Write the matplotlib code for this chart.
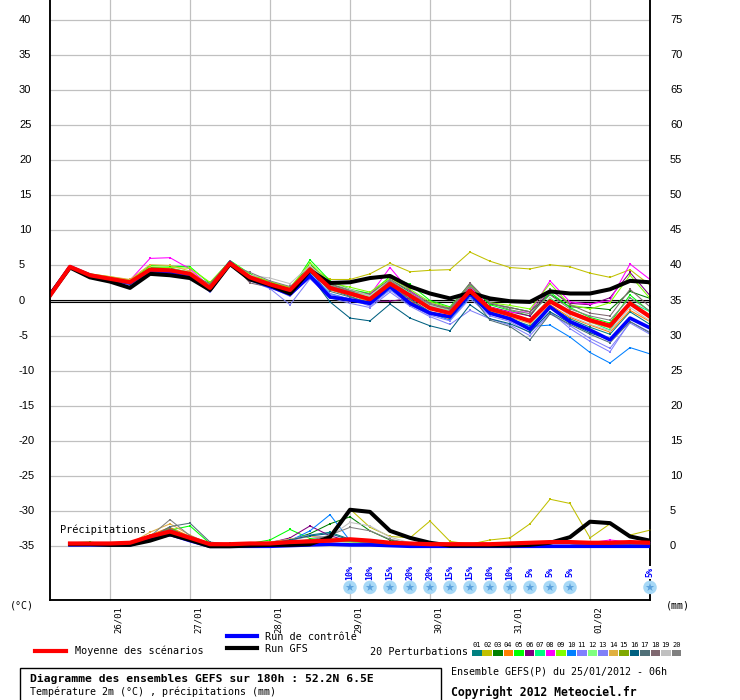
import matplotlib
matplotlib.use('Agg')
import matplotlib.pyplot as plt
from matplotlib.lines import Line2D
from matplotlib.patches import Rectangle
import matplotlib.transforms as mtransforms

# ---------------- data ----------------
hours_t = [0, 6, 12, 18, 24, 30, 36, 42, 48, 54, 60, 66, 72, 78, 84, 90,
           96, 102, 108, 114, 120, 126, 132, 138, 144, 150, 156, 162, 168, 174, 180]
hours_p = hours_t[1:]

day_hours = [18, 42, 66, 90, 114, 138, 162]
day_labels = ["26/01", "27/01", "28/01", "29/01", "30/01", "31/01", "01/02"]

temp_ticks = [-35, -30, -25, -20, -15, -10, -5, 0, 5, 10, 15, 20, 25, 30, 35, 40]
precip_ticks = [0, 5, 10, 15, 20, 25, 30, 35, 40, 45, 50, 55, 60, 65, 70, 75]

mean_t = [0.7, 4.8, 3.6, 3.1, 2.6, 4.4, 4.3, 3.8, 1.8, 5.3, 3.3, 2.3, 1.5, 4.4, 1.8, 1.0,
          0.2, 2.4, 0.7, -1.1, -1.8, 1.4, -1.2, -2.0, -2.9, -0.1, -1.7, -2.8, -3.6, -0.4, -2.3]
gfs_t = [0.8, 4.7, 3.3, 2.7, 1.8, 3.8, 3.6, 3.2, 1.5, 5.2, 3.0, 2.2, 1.0, 4.3, 2.5, 2.6,
         3.2, 3.5, 2.0, 1.0, 0.3, 1.1, 0.3, -0.1, -0.2, 1.3, 1.0, 1.0, 1.6, 2.8, 2.6]
ctrl_t = [0.8, 4.8, 3.6, 3.0, 2.5, 4.3, 4.1, 3.6, 1.5, 5.4, 3.1, 2.0, 0.9, 3.5, 0.5, 0.1,
          -0.4, 2.0, -0.4, -1.8, -2.3, 1.0, -1.8, -2.6, -4.1, -0.9, -3.0, -4.2, -5.6, -2.5, -3.9]

members_t = [
    [0.8, 4.9, 3.7, 3.2, 2.8, 4.6, 4.4, 3.9, 1.7, 5.4, 3.2, 2.2, 1.2, 4.0, 1.6, 0.6, -0.5, 2.0, 0.2, -1.6, -2.4, 0.8, -1.6, -2.6, -3.6, -0.8, -2.6, -3.8, -4.8, -1.6, -3.4],
    [0.7, 4.7, 3.4, 3.0, 2.3, 4.0, 4.2, 3.7, 1.9, 5.2, 3.5, 2.6, 1.9, 4.8, 3.0, 3.0, 3.8, 5.3, 4.1, 4.3, 4.4, 6.9, 5.6, 4.7, 4.5, 5.1, 4.8, 3.9, 3.3, 4.4, 2.2],
    [0.8, 4.8, 3.7, 3.3, 2.9, 4.7, 4.6, 4.0, 2.2, 5.6, 3.6, 2.6, 1.7, 5.2, 2.4, 1.5, 0.9, 3.0, 1.2, -0.6, -1.2, 2.0, -0.5, -1.0, -1.6, 0.9, -0.9, -1.0, -1.3, 1.3, 0.3],
    [0.7, 4.9, 3.5, 2.9, 2.4, 4.3, 4.1, 3.5, 1.5, 5.1, 3.0, 2.1, 1.3, 4.2, 1.5, 0.8, -0.2, 2.2, 0.0, -1.9, -2.6, 1.0, -1.9, -2.8, -4.1, -0.6, -2.4, -3.5, -4.5, -1.4, -3.0],
    [0.9, 4.8, 3.6, 3.2, 2.7, 5.0, 4.9, 4.8, 2.4, 5.7, 3.8, 2.5, 1.4, 5.8, 2.8, 1.6, 1.0, 3.4, 2.3, 0.0, -0.9, 2.4, -0.6, -1.4, -2.2, 1.2, -1.0, -2.4, -3.2, 0.8, -1.6],
    [0.7, 4.7, 3.5, 3.0, 2.5, 4.2, 4.1, 3.6, 1.9, 5.0, 3.0, 2.0, 1.2, 4.4, 0.6, -0.1, -0.1, -0.1, 0.3, -0.9, -1.5, 1.8, -0.9, -1.6, -2.2, 1.5, -0.4, -0.6, 0.4, 4.0, 0.7],
    [0.8, 4.8, 3.6, 3.0, 2.6, 4.5, 4.4, 3.9, 1.7, 5.3, 3.3, 2.3, 1.6, 4.6, 1.9, 1.2, 0.4, 2.9, 1.1, -0.8, -1.9, 1.6, -1.0, -2.0, -3.1, 0.4, -1.8, -3.0, -4.2, -0.2, -1.6],
    [0.7, 4.8, 3.6, 3.2, 2.9, 6.0, 6.1, 4.5, 2.0, 5.5, 3.2, 2.4, 1.6, 4.6, 1.6, 1.2, 0.8, 4.7, 1.3, -0.7, -1.6, 2.0, -1.0, -1.7, -1.6, 2.8, -0.2, -0.5, 0.0, 5.2, 3.0],
    [0.8, 4.7, 3.8, 3.4, 2.9, 4.8, 4.7, 4.6, 2.6, 5.6, 3.7, 2.7, 1.8, 5.4, 2.5, 1.9, 1.2, 3.2, 1.6, -0.2, -1.0, 2.1, -0.3, -0.7, -1.2, 2.4, -0.6, -1.2, -0.3, 3.6, 0.3],
    [0.7, 4.8, 3.5, 3.0, 2.5, 4.1, 4.0, 3.5, 1.6, 5.2, 3.1, 2.0, 1.0, 3.8, 1.0, 0.2, -0.6, 1.6, -0.2, -1.8, -2.8, 0.5, -1.8, -2.6, -3.7, -3.5, -5.2, -7.4, -8.9, -6.7, -7.6],
    [0.7, 4.8, 3.4, 2.9, 2.3, 4.0, 3.9, 3.4, 1.4, 5.1, 2.9, 1.9, 0.6, 3.4, 0.9, 0.2, -0.8, 1.5, -0.6, -2.1, -2.9, 0.3, -2.2, -3.0, -4.6, -1.6, -4.0, -5.8, -7.3, -3.0, -4.5],
    [0.8, 4.8, 3.7, 3.1, 2.6, 4.6, 4.5, 4.1, 2.1, 5.5, 3.5, 2.4, 1.5, 5.0, 2.2, 1.4, 0.6, 2.8, 1.0, -0.7, -1.5, 1.4, -1.0, -1.9, -2.7, 0.3, -1.5, -2.6, -3.6, -0.6, -2.2],
    [0.7, 4.9, 3.4, 2.8, 2.2, 3.8, 3.8, 3.3, 1.2, 5.0, 2.8, 1.7, -0.6, 3.1, 0.4, -0.4, -1.0, 1.2, -0.8, -2.3, -3.4, -1.4, -2.6, -3.5, -5.0, -1.8, -3.6, -5.4, -6.8, -3.2, -4.8],
    [0.8, 4.9, 3.8, 3.4, 3.0, 5.1, 5.0, 4.2, 2.0, 5.6, 3.6, 2.5, 1.6, 4.9, 2.0, 1.1, -0.4, 2.1, -0.3, -1.6, -2.3, 1.1, -1.5, -2.4, -3.3, -0.3, -1.9, -3.1, -3.9, -0.2, -2.6],
    [0.8, 4.8, 3.6, 3.1, 2.7, 4.4, 4.4, 3.9, 1.8, 5.2, 3.4, 2.4, 1.5, 4.5, 1.9, 1.0, 0.3, 2.7, 0.8, -1.0, -1.8, 1.2, -1.2, -2.0, -2.8, 0.1, -1.6, -2.7, -3.4, -0.4, -2.2],
    [0.7, 4.7, 3.5, 2.9, 2.4, 4.1, 4.0, 3.5, 1.5, 5.1, 3.0, 2.0, 0.9, 3.6, -0.2, -2.5, -2.9, -0.5, -2.5, -3.6, -4.3, -0.6, -2.6, -3.3, -4.5, -1.6, -3.2, -4.6, -5.6, -2.6, -4.0],
    [0.8, 4.9, 3.6, 3.0, 2.4, 4.2, 4.2, 3.7, 1.6, 5.3, 3.2, 2.2, 1.3, 4.3, 1.3, 0.5, -0.3, 2.4, 0.2, -1.7, -2.5, 0.9, -2.8, -3.7, -5.6, -1.9, -3.4, -4.8, -6.0, -3.0, -4.6],
    [0.7, 4.9, 3.6, 3.1, 2.6, 4.3, 4.2, 3.7, 2.4, 5.6, 2.5, 1.9, 1.3, 4.7, 2.3, 1.4, 0.9, 3.0, 1.4, -0.4, -1.1, 2.5, -0.4, -1.0, -1.6, 1.6, -0.6, -1.8, -2.2, 1.6, -0.9],
    [0.8, 4.8, 3.5, 3.1, 2.6, 4.5, 4.4, 3.9, 1.9, 5.4, 3.6, 3.2, 2.4, 5.0, 2.5, 1.6, 0.7, 2.9, 1.0, -0.6, -1.6, 1.3, -1.0, -1.8, -2.8, -0.1, -2.2, -3.4, -4.3, -1.0, -2.9],
    [0.7, 4.8, 3.6, 3.2, 2.7, 4.4, 4.3, 3.9, 1.7, 5.1, 4.0, 2.8, 2.0, 4.1, 2.1, 1.3, 0.2, 2.9, 0.9, -0.5, -1.3, 2.2, -0.3, -1.3, -1.9, 0.8, -1.2, -2.2, -2.8, 0.4, -1.5],
]

mean_p = [0.4, 0.4, 0.4, 0.5, 1.4, 2.1, 1.2, 0.3, 0.3, 0.4, 0.4, 0.6, 0.7, 0.8, 1.0,
          0.8, 0.5, 0.4, 0.3, 0.3, 0.3, 0.3, 0.4, 0.5, 0.6, 0.6, 0.5, 0.5, 0.6, 0.5]
gfs_p = [0.3, 0.3, 0.2, 0.2, 0.8, 1.7, 0.9, 0.0, 0.0, 0.1, 0.2, 0.2, 0.3, 1.3, 5.2,
         4.9, 2.2, 1.2, 0.5, 0.1, 0.1, 0.1, 0.1, 0.2, 0.5, 1.3, 3.5, 3.3, 1.4, 0.8]
ctrl_p = [0.2, 0.2, 0.2, 0.2, 1.0, 1.7, 0.8, 0.0, 0.0, 0.0, 0.0, 0.1, 0.2, 0.3, 0.2,
          0.2, 0.1, 0.0, 0.0, 0.0, 0.0, 0.0, 0.0, 0.0, 0.0, 0.0, 0.0, 0.0, 0.0, 0.0]

members_p = [
    [0.3, 0.3, 0.2, 0.3, 1.2, 2.2, 1.3, 0.2, 0.2, 0.3, 0.4, 0.8, 1.6, 2.0, 1.0, 0.6, 0.3, 0.2, 0.1, 0.1, 0.2, 0.2, 0.3, 0.4, 0.5, 0.4, 0.3, 0.3, 0.4, 0.3],
    [0.4, 0.3, 0.3, 0.4, 1.6, 2.4, 1.1, 0.2, 0.2, 0.3, 0.3, 0.4, 0.6, 1.5, 5.3, 2.7, 1.4, 1.2, 3.6, 0.7, 0.3, 0.9, 1.2, 3.2, 6.7, 6.1, 1.2, 3.2, 1.6, 2.3],
    [0.3, 0.4, 0.3, 0.3, 1.3, 2.0, 1.0, 0.3, 0.4, 0.3, 0.4, 0.9, 1.8, 3.2, 4.2, 2.2, 0.9, 0.4, 0.2, 0.2, 0.2, 0.3, 0.3, 0.4, 0.5, 0.4, 0.4, 0.3, 0.4, 0.3],
    [0.3, 0.4, 0.3, 0.3, 1.6, 2.7, 1.4, 0.3, 0.3, 0.4, 0.5, 0.7, 0.9, 0.8, 0.6, 0.5, 0.3, 0.3, 0.2, 0.2, 0.2, 0.3, 0.4, 0.4, 0.5, 0.4, 0.4, 0.3, 0.3, 0.3],
    [0.5, 0.6, 0.3, 0.3, 1.4, 2.3, 2.9, 0.4, 0.3, 0.4, 0.9, 2.4, 1.1, 0.9, 0.7, 0.5, 0.3, 0.2, 0.2, 0.2, 0.3, 0.3, 0.3, 0.4, 0.5, 0.4, 0.4, 0.3, 0.4, 0.3],
    [0.4, 0.4, 0.3, 0.3, 1.2, 2.1, 1.1, 0.3, 0.3, 0.4, 0.5, 1.2, 2.9, 1.5, 0.7, 0.4, 0.3, 0.2, 0.2, 0.2, 0.2, 0.3, 0.3, 0.4, 0.5, 0.5, 0.4, 0.4, 0.4, 0.4],
    [0.3, 0.3, 0.3, 0.3, 1.0, 1.8, 1.0, 0.3, 0.3, 0.3, 0.4, 0.6, 0.8, 0.7, 0.8, 0.6, 0.4, 0.3, 0.3, 0.2, 0.2, 0.3, 0.3, 0.4, 0.5, 0.4, 0.4, 0.4, 0.4, 0.3],
    [0.3, 0.3, 0.3, 0.4, 1.3, 1.9, 1.0, 0.2, 0.2, 0.3, 0.4, 0.5, 0.7, 0.9, 1.0, 0.8, 0.4, 0.3, 0.2, 0.2, 0.2, 0.2, 0.3, 0.3, 0.4, 0.4, 0.5, 0.9, 0.6, 0.4],
    [0.4, 0.4, 0.3, 0.3, 1.2, 2.0, 1.2, 0.3, 0.3, 0.4, 0.5, 0.7, 0.9, 1.0, 0.9, 0.6, 0.3, 0.3, 0.2, 0.2, 0.2, 0.3, 0.3, 0.4, 0.5, 0.5, 0.4, 0.3, 0.4, 0.3],
    [0.3, 0.3, 0.2, 0.3, 1.1, 1.8, 1.0, 0.3, 0.2, 0.3, 0.4, 0.8, 2.2, 4.5, 0.8, 0.6, 0.3, 0.2, 0.2, 0.2, 0.2, 0.2, 0.3, 0.3, 0.4, 0.4, 0.3, 0.3, 0.3, 0.3],
    [0.3, 0.3, 0.3, 0.3, 1.0, 1.6, 1.1, 0.3, 0.3, 0.4, 0.5, 0.9, 1.4, 1.0, 0.7, 0.5, 0.3, 0.2, 0.2, 0.2, 0.2, 0.2, 0.3, 0.3, 0.4, 0.4, 0.3, 0.3, 0.3, 0.3],
    [0.4, 0.4, 0.3, 0.3, 1.1, 1.7, 1.0, 0.3, 0.3, 0.3, 0.5, 0.7, 0.8, 0.7, 0.6, 0.5, 0.3, 0.2, 0.2, 0.2, 0.2, 0.2, 0.3, 0.3, 0.4, 0.4, 0.4, 0.3, 0.3, 0.3],
    [0.3, 0.3, 0.3, 0.3, 1.2, 1.5, 1.3, 0.3, 0.3, 0.4, 0.6, 1.0, 1.6, 1.2, 0.8, 0.5, 0.3, 0.2, 0.2, 0.2, 0.2, 0.2, 0.3, 0.3, 0.4, 0.4, 0.3, 0.3, 0.3, 0.3],
    [0.3, 0.4, 0.3, 0.4, 2.0, 3.2, 1.6, 0.3, 0.3, 0.4, 0.6, 1.0, 1.4, 1.2, 0.8, 0.6, 0.3, 0.2, 0.2, 0.2, 0.2, 0.3, 0.3, 0.4, 0.5, 0.4, 0.4, 0.3, 0.4, 0.3],
    [0.3, 0.3, 0.3, 0.3, 1.3, 2.6, 1.2, 0.2, 0.2, 0.3, 0.4, 0.6, 0.8, 0.9, 0.7, 0.5, 0.3, 0.2, 0.2, 0.2, 0.2, 0.3, 0.3, 0.3, 0.4, 0.4, 0.4, 0.3, 0.3, 0.3],
    [0.3, 0.3, 0.3, 0.3, 1.1, 2.4, 1.3, 0.3, 0.3, 0.3, 0.4, 0.9, 1.5, 1.8, 0.9, 0.6, 0.3, 0.2, 0.2, 0.2, 0.2, 0.2, 0.3, 0.3, 0.4, 0.4, 0.3, 0.3, 0.3, 0.3],
    [0.3, 0.3, 0.3, 0.3, 1.2, 2.8, 3.3, 0.6, 0.3, 0.3, 0.4, 0.6, 0.9, 1.0, 0.8, 0.5, 0.3, 0.2, 0.2, 0.2, 0.2, 0.2, 0.3, 0.3, 0.4, 0.4, 0.3, 0.3, 0.3, 0.3],
    [0.3, 0.3, 0.3, 0.3, 1.3, 2.5, 1.2, 0.3, 0.3, 0.3, 0.4, 0.6, 0.8, 0.8, 0.8, 0.5, 0.3, 0.2, 0.2, 0.2, 0.2, 0.2, 0.3, 0.3, 0.4, 0.4, 0.3, 0.3, 0.3, 0.3],
    [0.3, 0.3, 0.3, 0.3, 1.2, 2.0, 1.0, 0.3, 0.3, 0.3, 0.4, 0.5, 0.7, 1.4, 3.4, 2.9, 1.3, 0.5, 0.3, 0.2, 0.2, 0.2, 0.3, 0.3, 0.4, 0.4, 0.3, 0.3, 0.3, 0.3],
    [0.3, 0.3, 0.3, 0.3, 1.4, 3.8, 1.5, 0.4, 0.3, 0.3, 0.4, 0.6, 0.8, 1.6, 2.7, 2.2, 1.0, 0.4, 0.3, 0.2, 0.2, 0.2, 0.3, 0.3, 0.4, 0.4, 0.3, 0.3, 0.3, 0.3],
]

member_names = ["01", "02", "03", "04", "05", "06", "07", "08", "09", "10",
                "11", "12", "13", "14", "15", "16", "17", "18", "19", "20"]
member_colors = ["#008080", "#c0c000", "#008000", "#ff8000", "#00ff00", "#800080",
                 "#00ff80", "#ff00ff", "#80ff00", "#0080ff", "#8080ff", "#80ff80",
                 "#8080f8", "#e0b040", "#80a800", "#006080", "#507078", "#806870",
                 "#c0c0c0", "#808080"]

snow_hours = [90, 96, 102, 108, 114, 120, 126, 132, 138, 144, 150, 156, 180]
snow_pct = ["10%", "10%", "15%", "20%", "20%", "15%", "15%", "10%", "10%", "5%", "5%", "5%", "5%"]

# ---------------- figure ----------------
W, H = 740, 700
fig = plt.figure(figsize=(7.4, 7.0), dpi=100)
fig.patch.set_facecolor('white')
ax = fig.add_axes([50 / W, 100 / H, 600 / W, 600 / H])
T_LO, T_HI = -42.65, 42.8
PRECIP_OFFSET = 35
ax.set_xlim(0, 180)
ax.set_ylim(T_LO, T_HI)
axp = ax.twinx()
axp.set_ylim(T_LO + PRECIP_OFFSET, T_HI + PRECIP_OFFSET)

for a in (ax, axp):
    a.set_xticks([])
    a.set_yticks([])
    a.spines['top'].set_visible(False)
    a.spines['left'].set_linewidth(1.1)
    a.spines['right'].set_linewidth(1.1)
    a.spines['bottom'].set_linewidth(1.1)

grid_c = '#c0c0c0'
for v in temp_ticks:
    ax.axhline(v, color=grid_c, lw=0.9, zorder=0)
for h in day_hours:
    ax.axvline(h, color=grid_c, lw=0.9, zorder=0)

# zero line (double)
ax.axhline(0.14, color='black', lw=0.8, zorder=1)
ax.axhline(-0.16, color='black', lw=0.8, zorder=1)

mono = 'DejaVu Sans Mono'
tickfont = 'Liberation Sans'

# y tick labels
for v in temp_ticks:
    ax.text(-0.0517, v, str(v), transform=ax.get_yaxis_transform(), ha='left', va='center',
            fontsize=8.0, family=tickfont)
for v in precip_ticks:
    axp.text(1.0333, v, str(v), transform=axp.get_yaxis_transform(), ha='left', va='center',
             fontsize=8.0, family=tickfont)

# temperature members
for vals, c in zip(members_t, member_colors):
    ax.plot(hours_t, vals, color=c, lw=0.75, marker='s', ms=1.8, mew=0, zorder=2)
ax.plot(hours_t, ctrl_t, color='#0000ff', lw=2.6, zorder=3)
ax.plot(hours_t, gfs_t, color='black', lw=2.9, zorder=4)
ax.plot(hours_t, mean_t, color='#ff0000', lw=3.0, zorder=5)

# precipitation members
for vals, c in zip(members_p, member_colors):
    axp.plot(hours_p, vals, color=c, lw=0.75, marker='s', ms=1.8, mew=0, zorder=2)
axp.plot(hours_p, ctrl_p, color='#0000ff', lw=2.6, zorder=3)
axp.plot(hours_p, gfs_p, color='black', lw=2.9, zorder=4)
axp.plot(hours_p, mean_p, color='#ff0000', lw=3.0, zorder=5)

ax.text(3.0, -32.7, "Précipitations", fontsize=7.4, family=mono, ha='left', va='center', zorder=6)

# snow probabilities
xt = mtransforms.blended_transform_factory(ax.transData, ax.transAxes)
for h, p in zip(snow_hours, snow_pct):
    axp.text(h, 0.046, p, transform=xt, rotation=90, ha='center', va='center',
             fontsize=6.0, family=mono, fontweight='bold', color='#0000ff', zorder=7,
             bbox=dict(facecolor='white', edgecolor='none', pad=1.2))
    axp.scatter([h], [0.021], transform=xt, s=95, color='#a6d8f6', edgecolors='none',
                zorder=8, clip_on=False)
    axp.scatter([h], [0.021], transform=xt, s=40, marker='*', color='#5aa0dc',
                edgecolors='none', zorder=9, clip_on=False)

# date labels
xb = mtransforms.blended_transform_factory(ax.transData, ax.transAxes)
for h, lab in zip(day_hours, day_labels):
    ax.text(h + 2.5, -0.011, lab, transform=xb, rotation=90, ha='center', va='top',
            fontsize=6.4, family=mono)

# unit labels
fig.text(22 / W, 1 - 606 / H, "(°C)", fontsize=7.2, family=mono, ha='center', va='center')
fig.text(678 / W, 1 - 606 / H, "(mm)", fontsize=7.2, family=mono, ha='center', va='center')

# legend
def fig_line(x0, x1, y, color, lw):
    fig.add_artist(Line2D([x0 / W, x1 / W], [1 - y / H, 1 - y / H], color=color, lw=lw))

fig_line(35, 66, 651, '#ff0000', 3.0)
fig.text(75 / W, 1 - 651 / H, "Moyenne des scénarios", fontsize=7.3, family=mono, va='center')
fig_line(227, 257, 636, '#0000ff', 3.0)
fig.text(265 / W, 1 - 637 / H, "Run de contrôle", fontsize=7.3, family=mono, va='center')
fig_line(227, 257, 648, 'black', 3.0)
fig.text(265 / W, 1 - 649 / H, "Run GFS", fontsize=7.3, family=mono, va='center')
fig.text(370 / W, 1 - 652 / H, "20 Perturbations", fontsize=7.3, family=mono, va='center')

for k, (n, c) in enumerate(zip(member_names, member_colors)):
    x0 = 472 + k * 10.5
    fig.add_artist(Rectangle((x0 / W, 1 - 656 / H), 9.5 / W, 6 / H, facecolor=c,
                             edgecolor='none'))
    fig.text((x0 + 4.75) / W, 1 - 645 / H, n, fontsize=5.0, family=mono,
             ha='center', va='center')

# title box
fig.add_artist(Rectangle((20 / W, -2 / H), 421 / W, 34 / H, facecolor='none',
                         edgecolor='black', lw=1.0))
fig.text(30 / W, 1 - 679 / H, "Diagramme des ensembles GEFS sur 180h : 52.2N 6.5E",
         fontsize=8.2, family=mono, fontweight='bold', va='center')
fig.text(30 / W, 1 - 692 / H, "Température 2m (°C) , précipitations (mm)",
         fontsize=7.2, family=mono, va='center')
fig.text(451 / W, 1 - 671 / H, "Ensemble GEFS(P) du 25/01/2012 - 06h",
         fontsize=7.2, family=mono, va='center')
fig.text(451 / W, 1 - 692 / H, "Copyright 2012 Meteociel.fr",
         fontsize=8.3, family=mono, fontweight='bold', va='center')

fig.savefig('out.png', dpi=100, facecolor='white')
